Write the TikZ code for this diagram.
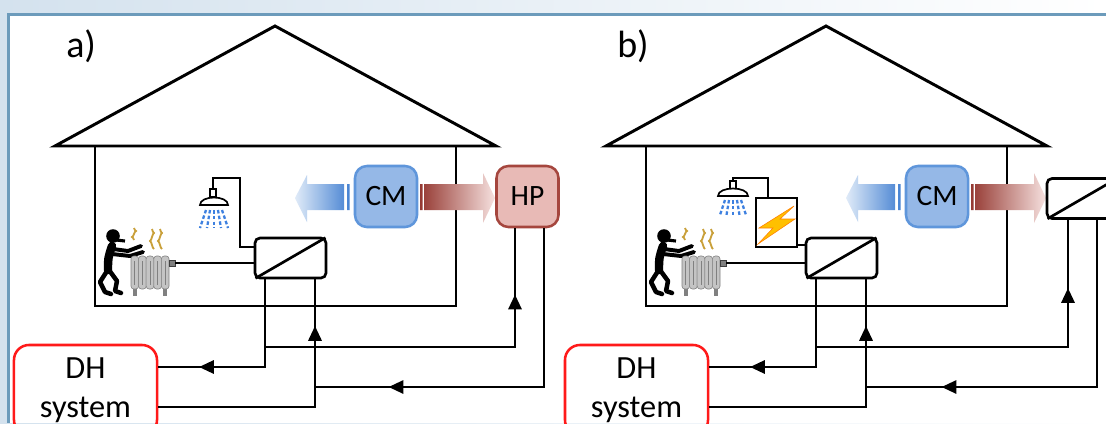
\documentclass[tikz,border=0pt]{standalone}
\usepackage{fontspec}
\setmainfont{Carlito}
\usetikzlibrary{arrows.meta,decorations.markings,calc}

\definecolor{framecol}{HTML}{6C9BBB}
\definecolor{bgblue}{HTML}{D4E2EE}
\definecolor{cmfill}{HTML}{95B8E7}
\definecolor{cmdraw}{HTML}{5F96DB}
\definecolor{hpfill}{HTML}{E8BAB6}
\definecolor{hpdraw}{HTML}{A5463E}
\definecolor{dhred}{HTML}{FF1A1A}
\definecolor{coldlight}{HTML}{E0EBF8}
\definecolor{colddark}{HTML}{4682D2}
\definecolor{hotdark}{HTML}{953932}
\definecolor{hotlight}{HTML}{F6E1DF}
\definecolor{waterblue}{HTML}{3D80E0}
\definecolor{heatgold}{HTML}{C9A03A}
\definecolor{radgrey}{HTML}{C4C4C4}
\definecolor{boltyellow}{HTML}{FFC000}

\tikzset{
  house/.style={line width=2.1pt},
  pipe/.style={line width=1.4pt},
  hxbox/.style={draw, line width=1.9pt, rounded corners=0.125cm, minimum width=1.775cm, minimum height=1cm, inner sep=0pt},
  cmbox/.style={draw=cmdraw, fill=cmfill, line width=1.8pt, rounded corners=0.3cm, minimum width=1.55cm, minimum height=1.525cm, inner sep=0pt, font=\fontsize{21}{24}\selectfont},
  hpbox/.style={cmbox, draw=hpdraw, fill=hpfill},
  dhbox/.style={draw=dhred, line width=1.8pt, rounded corners=0.375cm, minimum width=3.575cm, minimum height=2.25cm, inner sep=0pt, align=center, font=\fontsize{23}{27.7}\selectfont},
  flowtip/.style={decoration={markings, mark=at position #1 with {\arrow{Triangle[length=10.5pt,width=9.5pt]}}}, postaction={decorate}},
  heat/.style={heatgold, line width=1.3pt},
  drops/.style={waterblue, line width=1.6pt, dash pattern=on 2.5pt off 1.6pt},
}

% parts common to both houses, #1 = panel letter
\newcommand{\housepanel}[1]{%
  % roof and walls
  \draw[house] (55,146) -- (275,26) -- (496,146) -- cycle;
  \draw[house] (95,146) rectangle (456,306);
  \node[anchor=base west, inner sep=0pt, font=\fontsize{27}{30}\selectfont] (lbl#1) at (66,57) {#1)};

  % person at the radiator
  \fill (113,236) circle[radius=0.17cm];
  \draw[line width=2.2pt] (116,240) -- (125,241);
  \draw[line width=6pt, line cap=round] (112,246) .. controls (108,258) .. (108,270);
  \draw[line width=2.8pt, line cap=round, line join=round] (113,249) -- (128,251) -- (141,246);
  \draw[line width=2.8pt, line cap=round, line join=round] (112,254) -- (130,256) -- (143,252);
  \draw[line width=3.2pt, line cap=round, line join=round] (109,270) -- (117,281) -- (115,291) -- (121,293);
  \draw[line width=3.2pt, line cap=round, line join=round] (107,271) -- (100,282) -- (105,292) -- (111,294);

  % radiator
  \fill[gray] (133,288) rectangle (137,296);
  \fill[gray] (163,288) rectangle (167,296);
  \foreach \i in {0,...,4}
    \filldraw[fill=radgrey, draw=gray, rounded corners=2pt] ({131+7.6*\i},256) rectangle ++(7.6,33);
  \foreach \i in {0,...,4}
    \draw[gray, line width=0.6pt] ({134.8+7.6*\i},261) -- ++(0,24);
  \filldraw[fill=gray, draw=darkgray] (169,260) rectangle (175,266);
  \draw[heat] (134,228) sin (136,231) cos (134,234) sin (132,237) cos (134,240);
  \draw[heat] (152,229) sin (154,233) cos (152,237) sin (150,241) cos (152,245) sin (154,249);
  \draw[heat] (160,229) sin (162,233) cos (160,237) sin (158,241) cos (160,245) sin (162,249);

  % heat exchanger and radiator loop
  \node[hxbox] (hx#1) at (290.5,258) {};
  \draw[line width=1.9pt, shorten <=1.5pt, shorten >=1.5pt] (hx#1.south west) -- (hx#1.north east);
  \draw[pipe] (175,263) -- (hx#1.west |- 0,263);

  % cooling machine with its cold and warm side
  \node[cmbox] (cm#1) at (386,196.5) {CM};
  \shade[left color=coldlight, right color=colddark] (347,184) rectangle (349.5,210)
    (344,184) -- (344,210) -- (307,210) -- (307,222) -- (295,198) -- (307,175) -- (307,184) -- cycle;
  \shade[left color=hotdark, right color=hotlight] (420,184) rectangle (422.5,210)
    (424,184) -- (483,184) -- (483,173) -- (495,198) -- (483,223) -- (483,210) -- (424,210) -- cycle;

  % district heating
  \node[dhbox] (dh#1) at (85.5,390) {DH\\system};
  \coordinate (tee#1) at (265,347);
  \coordinate (mix#1) at (315,387);
  \draw[pipe, flowtip=0.79] (hx#1.south -| 265,0) |- (dh#1.east |- 0,367);
  \draw[pipe, flowtip=0.836] (dh#1.east |- 0,407) -| (hx#1.south -| 315,0);
}

\begin{document}
\begin{tikzpicture}[x=0.025cm, y=-0.025cm]
  \useasboundingbox (0,0) rectangle (1106,423);
  \clip (0,0) rectangle (1106,423);
  \shade[left color=bgblue, right color=white] (0,0) rectangle (1106,423);
  \fill[white] (8.5,14.5) rectangle (1106,423);
  \draw[framecol, line width=2pt] (8.5,423) -- (8.5,14.5) -- (1106,14.5);

  % a) heat pump on the warm side
  \begin{scope}
    \housepanel{a}
    \node[hpbox] (hpa) at (527.5,196.5) {HP};
    \draw[pipe, flowtip=0.82] (teea) -| (hpa.south -| 515,0);
    \draw[pipe, flowtip=0.81] (hpa.south -| 544,0) |- (mixa);
    % shower
    \draw[pipe] (213,190) -- (213,178) -- (240,178) -- (240,247) -- (hxa.west |- 0,247);
    \draw[line width=1.2pt, fill=white] (210,189) rectangle (216,197);
    \draw[line width=1.2pt, fill=white] (200,205) .. controls (200,195) and (228,195) .. (228,205) -- cycle;
    \foreach \i in {-2,...,2}
      \draw[drops] ({214+4*\i},210) -- ({214+7*\i},228);
  \end{scope}

  % b) second heat exchanger and electric boiler
  \begin{scope}[shift={(551,0)}]
    \housepanel{b}
    \node[hxbox] (hxo) at (531.5,198.5) {};
    \draw[line width=1.9pt, shorten <=1.5pt, shorten >=1.5pt] (hxo.south west) -- (hxo.north east);
    \draw[pipe, flowtip=0.82] (teeb) -| (hxo.south -| 517,0);
    \draw[pipe, flowtip=0.81] (hxo.south -| 546,0) |- (mixb);
    % electric boiler
    \node[draw, line width=1pt, minimum width=1.025cm, minimum height=1.225cm, inner sep=0pt] (boilb) at (225.5,222.5) {};
    \filldraw[fill=boltyellow, draw=orange, line width=0.4pt] (243,206) -- (208,228) -- (222,228) -- (207,244) -- (244,219) -- (229,219) -- cycle;
    \draw[pipe] (boilb.east |- 0,245) -- (hxb.west |- 0,245);
    % shower
    \draw[pipe] (182,187) -- (182,178) -| (boilb.north -| 217,0);
    \draw[line width=1.2pt, fill=white] (179,181) rectangle (185,189);
    \draw[line width=1.2pt, fill=white] (167,196) .. controls (167,186) and (197,186) .. (197,196) -- cycle;
    \foreach \i in {-2,...,2}
      \draw[drops] ({182+4*\i},200) -- ({182+6.5*\i},215);
  \end{scope}
\end{tikzpicture}
\end{document}
